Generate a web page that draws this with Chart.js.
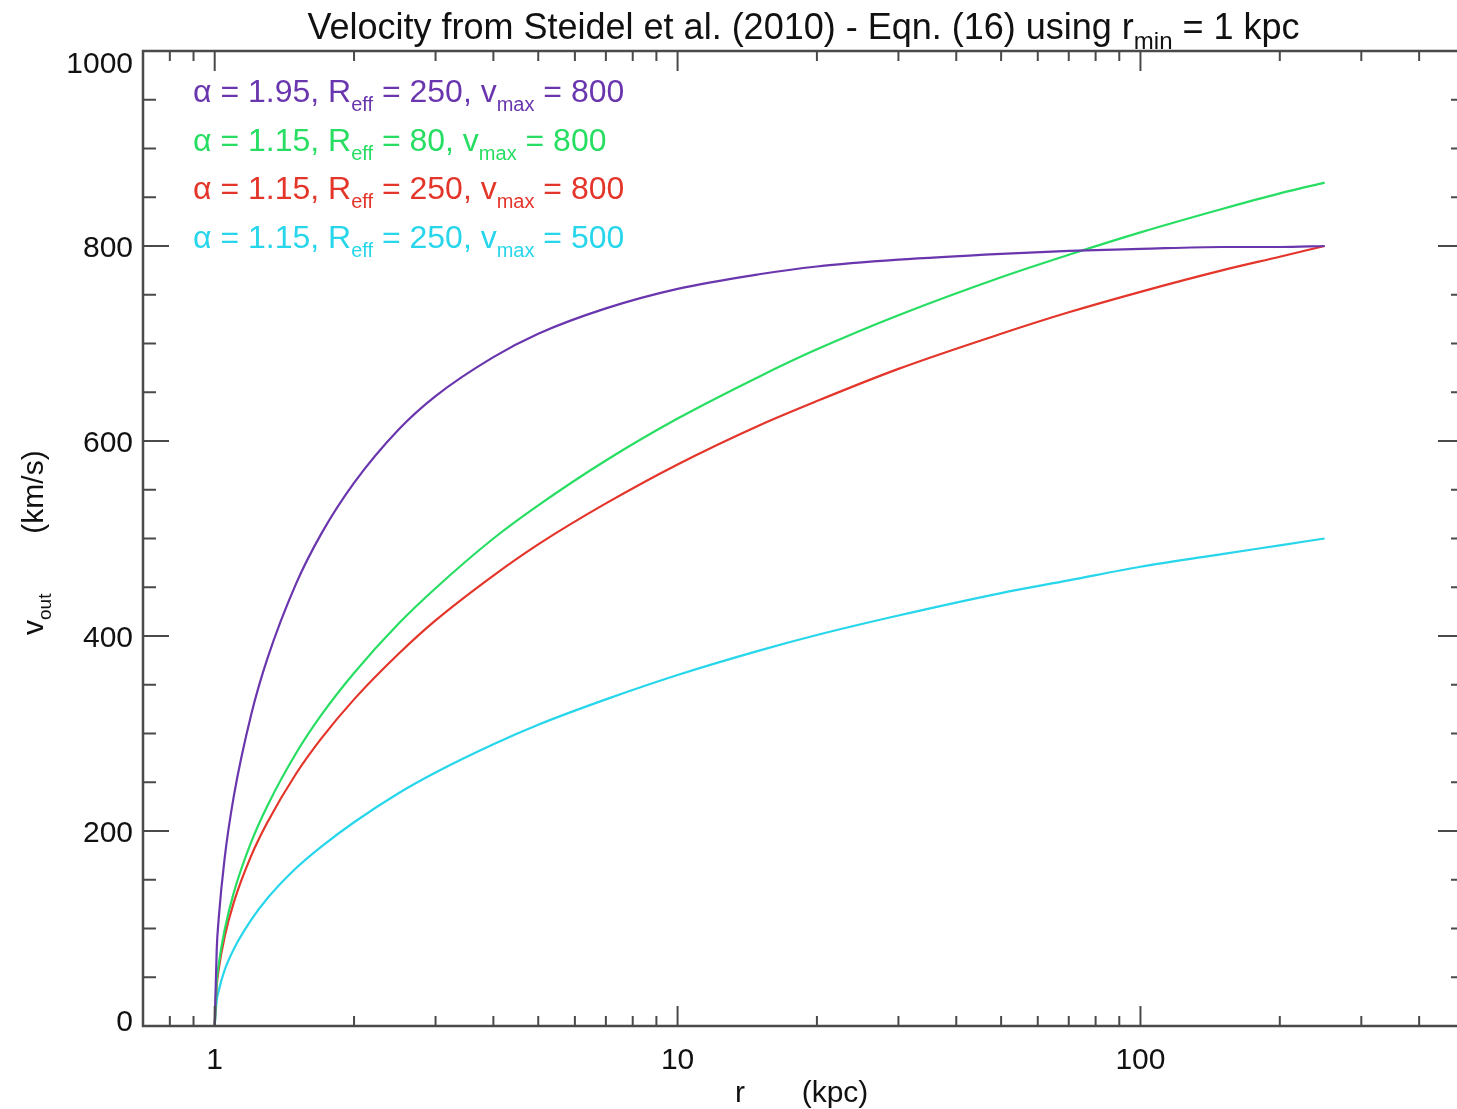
<!DOCTYPE html>
<html>
<head>
<meta charset="utf-8">
<script src="https://cdn.jsdelivr.net/npm/chart.js@4/dist/chart.umd.min.js"></script>
<style>
  html, body { margin: 0; padding: 0; background: #fff; overflow: hidden; }
  #wrap { width: 1470px; height: 1109px; }
</style>
</head>
<body>
<div id="wrap"><canvas id="velChart" width="1470" height="1109"></canvas></div>
<script>
/**
 * Data
 */
const radii = [1, 1.01, 1.02, 1.05, 1.1, 1.2, 1.3, 1.5, 1.7, 2, 2.5, 3, 4, 5, 7, 10, 15, 20, 30, 50, 70, 100, 150, 200, 250];
const vPurple = [0, 78, 110, 171, 236, 320, 377, 454, 505, 557, 612, 646, 686, 710, 736, 756, 771, 779, 786, 792, 795, 797, 799, 799, 800];
const vGreen  = [0, 45, 63, 98, 137, 189, 226, 280, 319, 362, 413, 449, 500, 534, 580, 623, 666, 694, 729, 768, 791, 814, 838, 854, 865];
const vRed    = [0, 41, 58, 91, 127, 175, 209, 259, 295, 335, 382, 416, 462, 494, 536, 576, 616, 641, 674, 710, 732, 753, 775, 789, 800];
const vCyan   = [0, 26, 36, 57, 79, 109, 131, 162, 184, 209, 239, 260, 289, 309, 335, 360, 385, 401, 421, 444, 457, 471, 484, 493, 500];

const xMajorTicks = [1, 10, 100];
const xMinorTicks = [0.8, 0.9, 2, 3, 4, 5, 6, 7, 8, 9, 20, 30, 40, 50, 60, 70, 80, 90, 200, 300, 400];
const yMajorTicks = [0, 200, 400, 600, 800, 1000];
const yMinorTicks = [50, 100, 150, 250, 300, 350, 450, 500, 550, 650, 700, 750, 850, 900, 950];

const COLOR_PURPLE = '#6a36ae';
const COLOR_GREEN = '#27de62';
const COLOR_RED = '#e4352b';
const COLOR_CYAN = '#27d6ea';
const AXIS_COLOR = '#4a4a4a';
const FONT = '"Liberation Sans", Arial, Helvetica, sans-serif';

// legend lines: [text, isSubscript]
const legendLines = [
    { color: COLOR_PURPLE, parts: [['\u03b1 = 1.95, R'], ['eff', 1], [' = 250, v'], ['max', 1], [' = 800']] },
    { color: COLOR_GREEN,  parts: [['\u03b1 = 1.15, R'], ['eff', 1], [' = 80, v'], ['max', 1], [' = 800']] },
    { color: COLOR_RED,    parts: [['\u03b1 = 1.15, R'], ['eff', 1], [' = 250, v'], ['max', 1], [' = 800']] },
    { color: COLOR_CYAN,   parts: [['\u03b1 = 1.15, R'], ['eff', 1], [' = 250, v'], ['max', 1], [' = 500']] },
];
const titleParts = [['Velocity from Steidel et al. (2010) - Eqn. (16) using r'], ['min', 1], [' = 1 kpc']];

//////////////////////////////////////////////////////////////////

/**
 * Draw text with subscripts, returns width
 */
function drawRich(ctx, x, y, parts, size, subSize, subDy, align) {
    let total = 0;
    parts.forEach(function (p) {
        ctx.font = (p[1] ? subSize : size) + 'px ' + FONT;
        total += ctx.measureText(p[0]).width;
    });
    let cx = x;
    if (align === 'center') cx = x - total / 2;
    ctx.textBaseline = 'alphabetic';
    ctx.textAlign = 'left';
    parts.forEach(function (p) {
        ctx.font = (p[1] ? subSize : size) + 'px ' + FONT;
        ctx.fillText(p[0], cx, p[1] ? y + subDy : y);
        cx += ctx.measureText(p[0]).width;
    });
    return total;
}

/**
 * IDL style frame, inward ticks and labels
 */
const idlFrame = {
    id: 'idlFrame',
    afterDraw(chart) {
        const ctx = chart.ctx;
        const a = chart.chartArea;
        const xs = chart.scales.x;
        const ys = chart.scales.y;
        ctx.save();

        // frame
        ctx.strokeStyle = AXIS_COLOR;
        ctx.lineWidth = 2.5;
        ctx.strokeRect(a.left, a.top, a.right - a.left, a.bottom - a.top);

        // ticks
        ctx.lineWidth = 2;
        ctx.beginPath();
        const xTick = function (v, len) {
            const px = xs.getPixelForValue(v);
            ctx.moveTo(px, a.bottom); ctx.lineTo(px, a.bottom - len);
            ctx.moveTo(px, a.top); ctx.lineTo(px, a.top + len);
        };
        const yTick = function (v, len) {
            const py = ys.getPixelForValue(v);
            ctx.moveTo(a.left, py); ctx.lineTo(a.left + len, py);
            ctx.moveTo(a.right, py); ctx.lineTo(a.right - len, py);
        };
        xMajorTicks.forEach(function (v) { xTick(v, 20); });
        xMinorTicks.forEach(function (v) { xTick(v, 10); });
        yMajorTicks.forEach(function (v) { yTick(v, 26); });
        yMinorTicks.forEach(function (v) { yTick(v, 13); });
        ctx.stroke();

        // tick labels
        ctx.fillStyle = '#111';
        ctx.font = '30px ' + FONT;
        ctx.textAlign = 'center';
        ctx.textBaseline = 'alphabetic';
        xMajorTicks.forEach(function (v) {
            ctx.fillText(String(v), xs.getPixelForValue(v), a.bottom + 43);
        });
        ctx.textAlign = 'right';
        yMajorTicks.forEach(function (v, i) {
            let py = ys.getPixelForValue(v) + 11;
            if (i === 0) py -= 6;
            if (i === yMajorTicks.length - 1) py = a.top + 22;
            ctx.fillText(String(v), a.left - 10, py);
        });

        // title
        drawRich(ctx, (a.left + a.right) / 2, 39, titleParts, 36, 24, 10, 'center');

        // legend
        legendLines.forEach(function (l, i) {
            ctx.fillStyle = l.color;
            drawRich(ctx, 193, 102 + i * 48.7, l.parts, 32, 20, 9, 'left');
        });

        // x axis title
        ctx.fillStyle = '#111';
        ctx.font = '30px ' + FONT;
        ctx.textAlign = 'center';
        ctx.fillText('r', 740, 1102);
        ctx.fillText('(kpc)', 835, 1102);

        // y axis title
        ctx.save();
        ctx.translate(43, 0);
        ctx.rotate(-Math.PI / 2);
        ctx.textAlign = 'center';
        ctx.font = '30px ' + FONT;
        ctx.fillText('(km/s)', -492, 0);
        drawRich(ctx, -635, 0, [['v'], ['out', 1]], 30, 19, 8, 'left');
        ctx.restore();

        ctx.restore();
    }
};

function makeSeries(vals) {
    return radii.map(function (r, i) { return { x: r, y: vals[i] }; });
}

function lineSet(label, vals, color) {
    return {
        label: label,
        data: makeSeries(vals),
        borderColor: color,
        backgroundColor: color,
        borderWidth: 2.2,
        pointRadius: 0,
        fill: false,
        cubicInterpolationMode: 'monotone'
    };
}

const config = {
    type: 'line',
    data: {
        datasets: [
            lineSet('alpha 1.95, Reff 250, vmax 800', vPurple, COLOR_PURPLE),
            lineSet('alpha 1.15, Reff 80, vmax 800', vGreen, COLOR_GREEN),
            lineSet('alpha 1.15, Reff 250, vmax 800', vRed, COLOR_RED),
            lineSet('alpha 1.15, Reff 250, vmax 500', vCyan, COLOR_CYAN),
        ]
    },
    options: {
        responsive: false,
        animation: false,
        layout: { padding: { left: 143, top: 51, right: 6, bottom: 83 } },
        plugins: {
            legend: { display: false },
            title: { display: false },
            tooltip: { enabled: false }
        },
        scales: {
            x: { type: 'logarithmic', min: 0.7, max: 500, display: false },
            y: { type: 'linear', min: 0, max: 1000, display: false }
        }
    },
    plugins: [idlFrame]
};

new Chart(document.getElementById('velChart'), config);
</script>
</body>
</html>
